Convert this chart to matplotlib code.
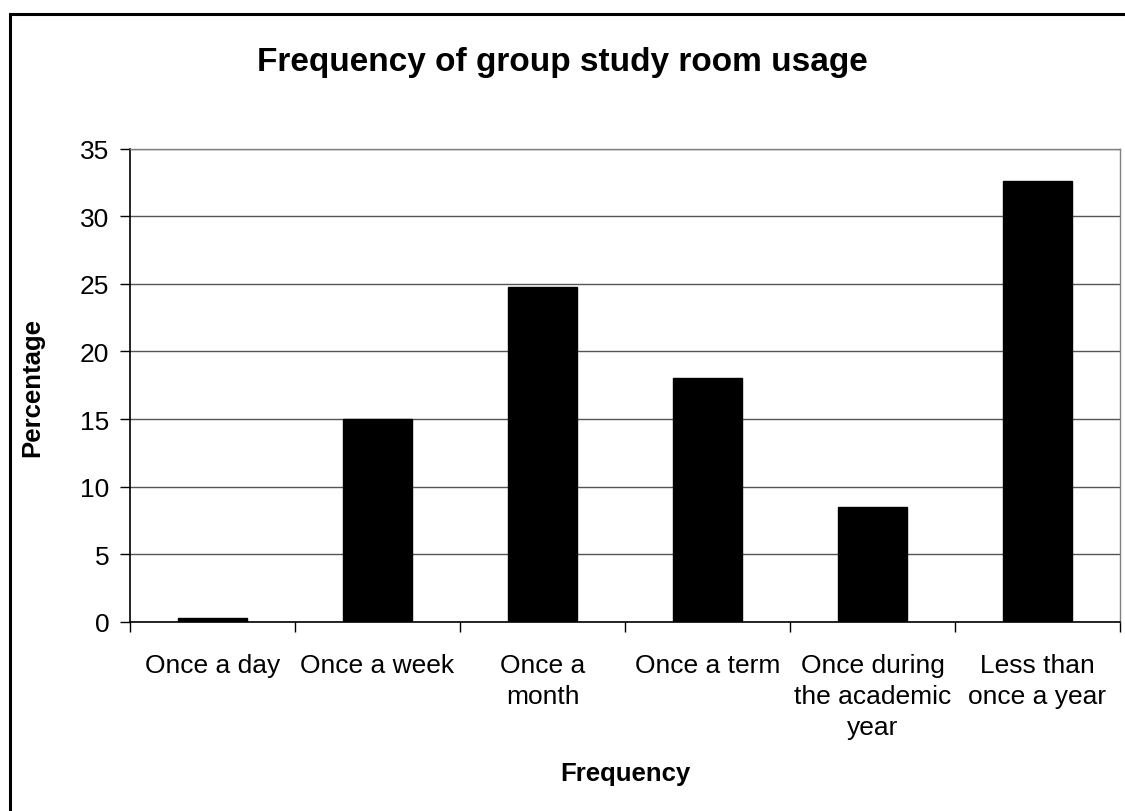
import matplotlib
matplotlib.use("Agg")
import matplotlib.pyplot as plt
from matplotlib.patches import Rectangle
from matplotlib.ticker import FixedLocator, NullFormatter

categories = ["Once a day", "Once a week", "Once a\nmonth", "Once a term",
              "Once during\nthe academic\nyear", "Less than\nonce a year"]
percentages = [0.3, 15.0, 24.75, 18.0, 8.5, 32.6]
y_ticks = [0, 5, 10, 15, 20, 25, 30, 35]

plt.rcParams['font.family'] = ['Liberation Sans', 'DejaVu Sans']

W, H = 1125, 812
fig = plt.figure(figsize=(W / 100, H / 100), dpi=100)
fig.patch.set_facecolor("white")

# chart frame (runs past the right and bottom edges)
fig.patches.append(Rectangle((10 / W, -0.05), 1.2, 1 - 15 / H + 0.05,
                             transform=fig.transFigure, fill=False,
                             edgecolor="black", linewidth=2.2))

ax = fig.add_axes([130 / W, 1 - 623 / H, (1120 - 130) / W, (623 - 149.5) / H])

x = list(range(len(categories)))
ax.bar(x, percentages, width=0.42, color="black", edgecolor="black",
       linewidth=1, zorder=3)

ax.set_xlim(-0.5, len(categories) - 0.5)
ax.set_ylim(0, 35)
ax.set_yticks(y_ticks)
ax.set_yticklabels([str(v) for v in y_ticks], fontsize=19)
ax.tick_params(axis="y", length=7, width=1, pad=8, direction="out")

ax.set_xticks(x)
ax.set_xticklabels(categories, fontsize=19, linespacing=1.38, va="top")
ax.tick_params(axis="x", which="major", length=0, pad=22)
ax.xaxis.set_minor_locator(FixedLocator([i - 0.5 for i in range(len(categories) + 1)]))
ax.xaxis.set_minor_formatter(NullFormatter())
ax.tick_params(axis="x", which="minor", length=7, width=1, direction="out")

ax.yaxis.grid(True, color="#555555", linewidth=1, zorder=0)
ax.set_axisbelow(True)

for side in ("left", "bottom"):
    ax.spines[side].set_color("black")
    ax.spines[side].set_linewidth(1.2)
for side in ("top", "right"):
    ax.spines[side].set_color("#808080")
    ax.spines[side].set_linewidth(1)

fig.text(562 / W, 1 - 62 / H, "Frequency of group study room usage",
         ha="center", va="center", fontsize=24, fontweight="bold")
fig.text(625 / W, 1 - 774 / H, "Frequency", ha="center", va="center",
         fontsize=18.5, fontweight="bold")
fig.text(32 / W, 1 - 388 / H, "Percentage", ha="center", va="center",
         rotation=90, fontsize=18.5, fontweight="bold")

fig.savefig("out.png", dpi=100, facecolor="white")
